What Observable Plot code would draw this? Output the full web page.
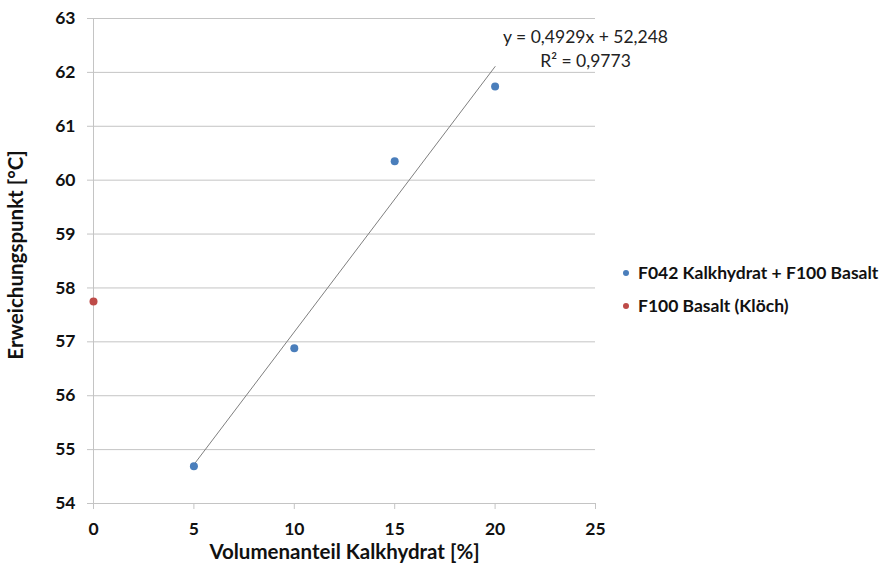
<!DOCTYPE html>
<html>
<head>
<meta charset="utf-8">
<script src="https://cdn.jsdelivr.net/npm/d3@7"></script>
<script src="https://cdn.jsdelivr.net/npm/@observablehq/plot@0.6"></script>
<style>
  html, body { margin: 0; padding: 0; background: #fff; }
  #wrap { position: relative; width: 883px; height: 569px; font-family: Lato, "Open Sans", sans-serif; }
  #legend { position: absolute; left: 620px; top: 256px; font-weight: bold; font-size: 17.5px; color: #111; }
  #legend .row { display: flex; align-items: center; height: 33px; }
  #legend .sw { width: 6px; height: 6px; border-radius: 50%; margin: 0 9px 0 3px; }
</style>
</head>
<body>
<div id="wrap"><div id="legend"></div></div>
<script>
// Data
const seriesNames = ["F042 Kalkhydrat + F100 Basalt", "F100 Basalt (Klöch)"];
const seriesColors = ["#4a7ebb", "#be4b48"];
const mixX = [5, 10, 15, 20];
const mixY = [54.69, 56.88, 60.35, 61.74];
const basaltX = [0];
const basaltY = [57.75];
const xTicks = [0, 5, 10, 15, 20, 25];
const yTicks = [54, 55, 56, 57, 58, 59, 60, 61, 62, 63];
const trendLabel = ["y = 0,4929x + 52,248", "R² = 0,9773"];
const xLabel = "Volumenanteil Kalkhydrat [%]";
const yLabel = "Erweichungspunkt [°C]";

const mix = mixX.map((x, i) => ({x, y: mixY[i]}));
const basalt = basaltX.map((x, i) => ({x, y: basaltY[i]}));

const plot = Plot.plot({
  width: 883,
  height: 569,
  marginLeft: 93,
  marginRight: 288,
  marginTop: 18,
  marginBottom: 66,
  style: {fontFamily: "Lato, 'Open Sans', sans-serif", color: "#111", background: "#fff"},
  x: {domain: [0, 25]},
  y: {domain: [54, 63]},
  marks: [
    Plot.gridY(yTicks, {stroke: "#c4c4c4", strokeOpacity: 1}),
    Plot.axisY(yTicks, {tickSize: 6, tickPadding: 12, stroke: "#c4c4c4", fontSize: 17.5, fontWeight: "bold", label: null, tickFormat: d => String(d)}),
    Plot.axisX(xTicks, {tickSize: 6, tickPadding: 13, stroke: "#c4c4c4", fontSize: 17.5, fontWeight: "bold", label: null, tickFormat: d => String(d)}),
    Plot.ruleX([0], {stroke: "#c4c4c4"}),
    Plot.ruleY([54], {stroke: "#c4c4c4"}),
    Plot.linearRegressionY(mix, {x: "x", y: "y", ci: 0, stroke: "#7f7f7f", strokeWidth: 1}),
    Plot.dot(mix, {x: "x", y: "y", r: 4, fill: seriesColors[0], stroke: "none"}),
    Plot.dot(basalt, {x: "x", y: "y", r: 4, fill: seriesColors[1], stroke: "none"}),
    Plot.text([trendLabel.join("\n")], {frameAnchor: "top-right", textAnchor: "middle", dx: -10, dy: 8, lineHeight: 1.35, fontSize: 17.5, fill: "#222"}),
    Plot.text([xLabel], {frameAnchor: "bottom", dy: 55, fontSize: 20.5, fontWeight: "bold", fill: "#111"}),
    Plot.text([yLabel], {frameAnchor: "left", textAnchor: "middle", dx: -77, dy: -6, rotate: -90, fontSize: 20.5, fontWeight: "bold", fill: "#111"})
  ]
});
document.getElementById("wrap").prepend(plot);
plot.style.position = "absolute"; plot.style.left = "0"; plot.style.top = "0";

const legend = document.getElementById("legend");
seriesNames.forEach((n, i) => {
  const row = document.createElement("div");
  row.className = "row";
  row.innerHTML = `<span class="sw" style="background:${seriesColors[i]}"></span><span>${n}</span>`;
  legend.appendChild(row);
});
</script>
</body>
</html>
